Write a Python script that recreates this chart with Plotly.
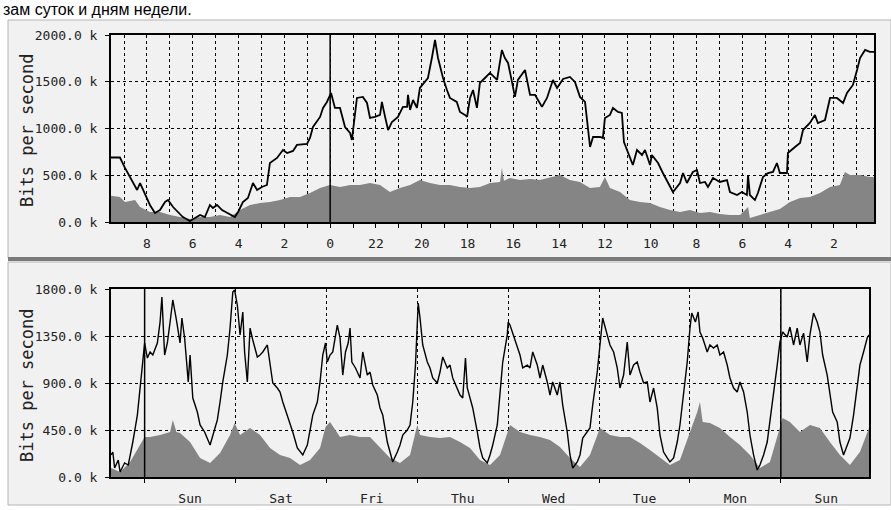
"""Graphe MRTG : trafic journalier (heures) et hebdomadaire (jours)"""

import plotly.graph_objects as go

W, H = 891, 510

# ---- Graphe journalier : heures écoulées depuis le bord gauche, kbit/s ----
jour_sortie_h = [
    0.00, 0.39, 0.61, 0.83, 1.14, 1.27, 1.48, 1.70, 1.92, 2.14, 2.36, 2.49, 2.71, 2.93,
    3.14, 3.45, 3.67, 3.89, 4.10, 4.32, 4.45, 4.63, 4.85, 5.11, 5.41, 5.55, 5.76, 5.98,
    6.20, 6.38, 6.59, 6.81, 6.94, 7.25, 7.51, 7.69, 7.95, 8.12, 8.56, 8.69, 8.82, 9.13,
    9.26, 9.43, 9.61, 9.78, 10.00, 10.22, 10.44, 10.52, 10.66, 10.74, 11.00, 11.18,
    11.31, 11.53, 11.75, 11.83, 11.97, 12.10, 12.27, 12.53, 12.75, 12.93, 12.97, 13.06,
    13.19, 13.36, 13.49, 13.71, 13.84, 14.02, 14.15, 14.28, 14.50, 14.67, 14.80, 15.10,
    15.24, 15.46, 15.55, 15.68, 15.81, 15.98, 16.11, 16.33, 16.55, 16.86, 17.07, 17.20,
    17.34, 17.51, 17.64, 17.77, 18.08, 18.30, 18.52, 18.82, 19.04, 19.30, 19.48, 19.74,
    20.04, 20.26, 20.48, 20.70, 20.83, 20.92, 21.05, 21.35, 21.48, 21.57, 21.79, 21.92,
    22.14, 22.31, 22.40, 22.58, 22.79, 22.97, 23.19, 23.32, 23.54, 23.62, 23.89, 24.10,
    24.32, 24.54, 24.85, 24.98, 25.15, 25.41, 25.59, 25.72, 25.94, 26.07, 26.29, 26.59,
    26.90, 27.03, 27.34, 27.55, 27.77, 27.82, 27.90, 28.12, 28.25, 28.47, 28.69, 28.91,
    29.08, 29.21, 29.52, 29.56, 29.87, 30.09, 30.22, 30.52, 30.74, 30.87, 31.18, 31.40,
    31.70, 31.97, 32.14, 32.40, 32.58, 32.71, 32.93, 33.14, 33.32,
]
jour_sortie_k = [
    690, 690, 578, 480, 342, 417, 310, 182, 96, 128, 214, 235, 160, 107,
    53, 10, 43, 75, 53, 182, 150, 182, 128, 96, 53, 107, 214, 257,
    417, 342, 375, 396, 631, 685, 770, 738, 760, 824, 834, 899, 1016, 1124,
    1220, 1284, 1380, 1220, 1220, 1016, 952, 877, 1177, 1327, 1338, 1273,
    1113, 1124, 1145, 1284, 1124, 984, 1070, 1124, 1231, 1231, 1359, 1198,
    1305, 1220, 1434, 1498, 1540, 1765, 1947, 1754, 1540, 1412, 1327, 1284,
    1177, 1145, 1124, 1327, 1412, 1220, 1487, 1540, 1594, 1519, 1840, 1754,
    1701, 1498, 1338, 1519, 1626, 1359, 1359, 1231, 1327, 1519, 1434, 1530,
    1551, 1498, 1338, 1284, 1016, 802, 909, 909, 899, 1113, 1145, 1220,
    1177, 1166, 856, 738, 610, 770, 717, 770, 610, 717, 631, 524,
    417, 321, 417, 524, 417, 535, 556, 417, 428, 375, 471, 428,
    449, 321, 289, 321, 289, 503, 289, 235, 310, 480, 524, 535,
    631, 524, 524, 738, 802, 845, 984, 1059, 1145, 1059, 1091, 1327,
    1327, 1273, 1380, 1466, 1626, 1754, 1840, 1819, 1819,
]
jour_entree_h = [
    0.00, 0.39, 0.61, 1.05, 1.27, 1.70, 2.14, 2.58, 3.01, 3.45, 3.89, 4.32, 4.76, 5.20,
    5.63, 6.07, 6.51, 6.94, 7.38, 7.82, 8.25, 8.69, 9.13, 9.56, 10.00, 10.44, 10.87,
    11.31, 11.75, 12.18, 12.62, 13.06, 13.49, 13.93, 14.37, 14.80, 15.24, 15.68, 16.11,
    16.55, 16.99, 17.07, 17.16, 17.42, 17.86, 18.30, 18.73, 19.17, 19.61, 20.04, 20.48,
    20.92, 21.35, 21.57, 21.79, 22.23, 22.66, 23.10, 23.54, 23.97, 24.41, 24.85, 25.28,
    25.72, 26.16, 26.59, 27.03, 27.47, 27.82, 27.90, 28.34, 28.78, 29.21, 29.65, 30.09,
    30.52, 30.96, 31.40, 31.83, 32.05, 32.27, 32.71, 33.14, 33.32,
]
jour_entree_k = [
    280, 267, 214, 235, 160, 107, 107, 75, 53, 32, 53, 53, 75, 53,
    128, 182, 203, 214, 235, 267, 267, 310, 364, 396, 375, 396, 396,
    417, 396, 321, 364, 396, 449, 417, 396, 396, 375, 364, 375,
    417, 428, 578, 440, 471, 449, 460, 449, 480, 503, 449, 428,
    364, 375, 480, 364, 321, 235, 214, 203, 160, 128, 107, 128,
    96, 107, 86, 75, 75, 160, 43, 75, 107, 139, 214, 257,
    267, 310, 375, 396, 535, 503, 503, 480, 480,
]
heures_pos = [1.57 + 2 * i for i in range(16)]
heures_txt = ["8", "6", "4", "2", "0", "22", "20", "18", "16", "14", "12", "10", "8", "6", "4", "2"]
minuit = 9.57
jour_y_vals = [0, 500, 1000, 1500, 2000]
jour_y_txt = ["0.0 k", "500.0 k", "1000.0 k", "1500.0 k", "2000.0 k"]

# ---- Graphe hebdomadaire : jours écoulés depuis le bord gauche, kbit/s ----
sem_sortie_j = [
    0.00, 0.02, 0.04, 0.08, 0.10, 0.15, 0.19, 0.24, 0.29, 0.32, 0.35, 0.37, 0.40, 0.43,
    0.46, 0.51, 0.54, 0.56, 0.59, 0.62, 0.65, 0.68, 0.72, 0.76, 0.78, 0.81, 0.85, 0.87,
    0.90, 0.95, 0.98, 1.03, 1.09, 1.12, 1.17, 1.20, 1.23, 1.28, 1.31, 1.34, 1.36, 1.39,
    1.42, 1.45, 1.47, 1.50, 1.53, 1.56, 1.61, 1.64, 1.67, 1.72, 1.75, 1.78, 1.83, 1.86,
    1.89, 1.94, 1.97, 2.00, 2.05, 2.11, 2.16, 2.22, 2.27, 2.30, 2.33, 2.36, 2.38, 2.41,
    2.44, 2.49, 2.52, 2.55, 2.58, 2.61, 2.63, 2.65, 2.69, 2.74, 2.77, 2.82, 2.85, 2.88,
    2.93, 2.96, 2.99, 3.04, 3.07, 3.10, 3.15, 3.18, 3.21, 3.26, 3.29, 3.32, 3.35, 3.37,
    3.38, 3.40, 3.43, 3.48, 3.51, 3.54, 3.59, 3.62, 3.65, 3.70, 3.73, 3.76, 3.81, 3.84,
    3.87, 3.90, 3.92, 3.95, 3.98, 4.03, 4.06, 4.09, 4.14, 4.17, 4.20, 4.25, 4.28, 4.31,
    4.36, 4.37, 4.39, 4.42, 4.47, 4.50, 4.53, 4.58, 4.61, 4.64, 4.69, 4.72, 4.75, 4.80,
    4.83, 4.86, 4.91, 4.94, 4.97, 5.02, 5.05, 5.08, 5.13, 5.16, 5.19, 5.24, 5.27, 5.30,
    5.35, 5.38, 5.40, 5.41, 5.46, 5.49, 5.53, 5.57, 5.60, 5.64, 5.68, 5.71, 5.75, 5.79,
    5.82, 5.86, 5.90, 5.93, 5.97, 6.01, 6.04, 6.08, 6.12, 6.15, 6.19, 6.23, 6.26, 6.30,
    6.34, 6.37, 6.39, 6.43, 6.46, 6.48, 6.51, 6.56, 6.59, 6.63, 6.67, 6.70, 6.74, 6.78,
    6.81, 6.85, 6.89, 6.92, 6.96, 7.00, 7.03, 7.07, 7.11, 7.14, 7.18, 7.22, 7.25, 7.29,
    7.33, 7.36, 7.39, 7.44, 7.47, 7.51, 7.55, 7.58, 7.62, 7.66, 7.69, 7.73, 7.77, 7.80,
    7.83, 7.88, 7.91, 7.94, 7.99, 8.02, 8.06, 8.10, 8.13, 8.17, 8.21, 8.24, 8.28, 8.32,
    8.34,
]
sem_sortie_k = [
    211, 239, 86, 163, 48, 134, 115, 335, 593, 852, 1168, 1283, 1139, 1197,
    1168, 1283, 1484, 1723, 1168, 1283, 1484, 1695, 1503, 1283, 1522, 1331, 910, 1168,
    756, 622, 498, 431, 306, 402, 546, 718, 910, 1168, 1426, 1771, 1790, 1647,
    1360, 1580, 1197, 910, 1426, 1312, 1149, 1168, 1197, 1264, 1072, 900, 852, 814,
    718, 593, 527, 431, 278, 211, 306, 593, 718, 910, 1168, 1283, 1101, 1168,
    1197, 1455, 1331, 976, 1197, 1283, 1426, 1101, 1044, 948, 1197, 976, 1005, 881,
    785, 661, 593, 335, 239, 144, 239, 306, 402, 450, 498, 718, 1072, 1388,
    1666, 1522, 1264, 1101, 1044, 948, 900, 1005, 1149, 1044, 1072, 948, 852, 785,
    756, 1139, 852, 756, 661, 431, 278, 182, 134, 211, 306, 498, 785, 1101,
    1360, 1484, 1455, 1378, 1264, 1168, 1044, 1072, 1044, 1197, 1072, 948, 1072, 910,
    785, 910, 785, 910, 689, 431, 211, 86, 144, 211, 373, 431, 469, 689,
    1005, 1264, 1484, 1522, 1360, 1264, 1197, 1044, 852, 976, 1292, 976, 1072, 1101,
    1005, 900, 910, 718, 852, 661, 402, 239, 182, 144, 182, 335, 498, 785,
    1101, 1426, 1570, 1484, 1580, 1388, 1331, 1197, 1264, 1235, 1264, 1168, 1197, 1072,
    948, 852, 814, 910, 814, 622, 402, 211, 67, 115, 211, 335, 527, 785,
    1072, 1292, 1388, 1340, 1436, 1264, 1426, 1264, 1378, 1101, 1360, 1570, 1484, 1388,
    1168, 976, 785, 622, 527, 335, 211, 306, 373, 593, 852, 1072, 1197, 1331,
    1360,
]
sem_entree_j = [
    0.00, 0.10, 0.21, 0.32, 0.37, 0.43, 0.54, 0.65, 0.68, 0.72, 0.76, 0.87, 0.98, 1.09,
    1.20, 1.31, 1.36, 1.42, 1.53, 1.64, 1.75, 1.86, 1.97, 2.08, 2.19, 2.30, 2.36, 2.41,
    2.52, 2.63, 2.74, 2.85, 2.96, 3.07, 3.18, 3.29, 3.37, 3.40, 3.51, 3.62, 3.73, 3.84,
    3.95, 4.06, 4.17, 4.28, 4.39, 4.50, 4.61, 4.72, 4.83, 4.94, 5.05, 5.16, 5.27, 5.38,
    5.49, 5.60, 5.71, 5.82, 5.93, 6.04, 6.15, 6.26, 6.37, 6.45, 6.48, 6.51, 6.59, 6.70,
    6.81, 6.92, 7.03, 7.14, 7.25, 7.36, 7.39, 7.47, 7.58, 7.69, 7.80, 7.91, 8.02, 8.13,
    8.24, 8.34,
]
sem_entree_k = [
    86, 48, 144, 306, 383, 383, 402, 431, 546, 430, 421, 335, 182, 134,
    230, 402, 517, 402, 469, 402, 278, 211, 182, 115, 163, 278, 479, 527,
    383, 402, 383, 383, 287, 182, 134, 211, 498, 402, 383, 373, 383, 335,
    278, 163, 115, 211, 498, 431, 402, 383, 354, 287, 182, 96, 211, 469,
    402, 383, 383, 325, 258, 182, 115, 163, 431, 622, 718, 527, 517, 469,
    383, 306, 211, 86, 144, 469, 565, 527, 431, 498, 469, 335, 211, 115,
    239, 469,
]
jours_txt = ["Sun", "Sat", "Fri", "Thu", "Wed", "Tue", "Mon", "Sun"]
jours_pos = [0.87 + i for i in range(8)]
semaines = [0.37, 7.37]
sem_y_vals = [0, 450, 900, 1350, 1800]
sem_y_txt = ["0.0 k", "450.0 k", "900.0 k", "1350.0 k", "1800.0 k"]

GRIS = "#858585"
MONO = "DejaVu Sans Mono"


def px_x(v):
    return v / W


def px_y(v):
    return (H - v) / H


fig = go.Figure()

for xs, ys, ax in [(jour_entree_h, jour_entree_k, ""), (sem_entree_j, sem_entree_k, "2")]:
    fig.add_trace(go.Scatter(
        x=xs, y=ys, xaxis="x" + ax, yaxis="y" + ax, mode="lines",
        line=dict(width=0), fill="tozeroy", fillcolor=GRIS,
        hoverinfo="skip", showlegend=False,
    ))
fig.add_trace(go.Scatter(x=jour_sortie_h, y=jour_sortie_k, xaxis="x", yaxis="y",
                         mode="lines", line=dict(color="black", width=1.8),
                         showlegend=False))
fig.add_trace(go.Scatter(x=sem_sortie_j, y=sem_sortie_k, xaxis="x2", yaxis="y2",
                         mode="lines", line=dict(color="black", width=1.4),
                         showlegend=False))

axe_commun = dict(showline=True, mirror=True, linecolor="black", linewidth=2,
                  zeroline=False, automargin=False)
grille = dict(showgrid=True, griddash="dot", gridcolor="black", gridwidth=1)
police_x = dict(family=MONO, size=13, color="#222")
police_y = dict(family=MONO, size=13, color="#222")

fig.update_layout(
    width=W, height=H, margin=dict(l=0, r=0, t=0, b=0, autoexpand=False),
    paper_bgcolor="white", plot_bgcolor="#f9f9f9",
    xaxis=dict(domain=[px_x(111), px_x(874)], range=[0, 33.32], anchor="y",
               tickvals=heures_pos, ticktext=heures_txt, ticks="outside", ticklen=4,
               tickcolor="black", ticklabelstandoff=4, tickfont=police_x,
               minor=dict(tick0=0.57, dtick=1, ticks="outside", ticklen=4,
                          tickcolor="black", **grille),
               **grille, **axe_commun),
    yaxis=dict(domain=[px_y(222), px_y(35)], range=[0, 2000], anchor="x",
               tickvals=jour_y_vals, ticktext=jour_y_txt, ticks="outside", ticklen=4,
               tickcolor="black", ticklabelstandoff=5, tickfont=police_y,
               **grille, **axe_commun),
    xaxis2=dict(domain=[px_x(111), px_x(869)], range=[0, 8.34], anchor="y2",
                tickvals=jours_pos, ticktext=jours_txt, ticks="", showgrid=False,
                ticklabelstandoff=8, tickfont=police_x,
                minor=dict(tick0=0.37, dtick=1, ticks="outside", ticklen=4,
                           tickcolor="black", **grille),
                **axe_commun),
    yaxis2=dict(domain=[px_y(477), px_y(289)], range=[0, 1800], anchor="x2",
                tickvals=sem_y_vals, ticktext=sem_y_txt, ticks="outside", ticklen=4,
                tickcolor="black", ticklabelstandoff=5, tickfont=police_y,
                **grille, **axe_commun),
)

# cadres gris autour de chaque graphe
for haut, bas in [(20, 258), (262, 505)]:
    fig.add_shape(type="rect", xref="paper", yref="paper", layer="below",
                  x0=px_x(8), x1=1.0, y0=px_y(bas), y1=px_y(haut),
                  fillcolor="#f1f1f1", line=dict(color="#b5b5b5", width=1))
fig.add_shape(type="line", xref="paper", yref="paper", layer="below",
              x0=px_x(8), x1=1.0, y0=px_y(259), y1=px_y(259),
              line=dict(color="#7a7a7a", width=4))

# lignes pleines : minuit et début de semaine
fig.add_shape(type="line", xref="x", yref="y domain", x0=minuit, x1=minuit, y0=0, y1=1,
              line=dict(color="black", width=1.5))
for s in semaines:
    fig.add_shape(type="line", xref="x2", yref="y2 domain", x0=s, x1=s, y0=0, y1=1,
                  line=dict(color="black", width=1.5))

for yc in [130, 385]:
    fig.add_annotation(x=px_x(27), y=px_y(yc), xref="paper", yref="paper",
                       xanchor="center", yanchor="middle",
                       text="Bits per second", textangle=-90, showarrow=False,
                       font=dict(family=MONO, size=17, color="#222"))

fig.add_annotation(x=px_x(2), y=1.0, xref="paper", yref="paper", xanchor="left",
                   yanchor="top", text="зам суток и дням недели.", showarrow=False,
                   borderpad=0, font=dict(family="Liberation Sans", size=16, color="black"))

# la page n'a pas de marge : la figure occupe toute la fenêtre
fig.write_html("out.html", config={"displayModeBar": False},
               post_script="document.body.style.margin='0';"
                           "document.body.style.overflow='hidden';")
